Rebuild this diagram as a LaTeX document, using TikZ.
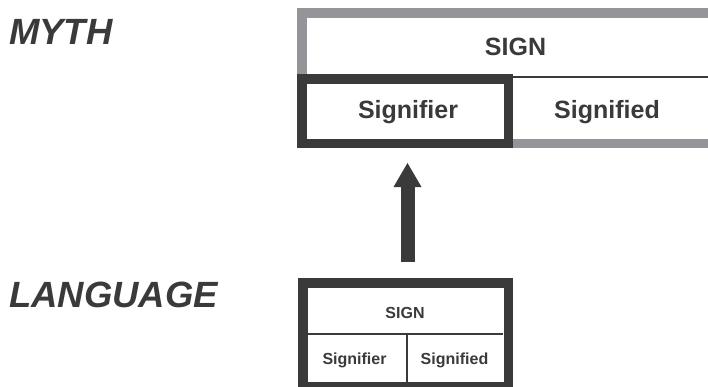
\documentclass[tikz,border=0pt]{standalone}
\usepackage{fontspec}
\setmainfont{Liberation Sans}
\usetikzlibrary{arrows.meta,positioning}
\definecolor{ink}{RGB}{58,58,58}
\definecolor{rim}{RGB}{147,149,152}

\begin{document}
\begin{tikzpicture}[x=1pt,y=-1pt,
  level/.style={anchor=base west,inner sep=0pt,text=ink,font=\fontsize{36.5}{36.5}\selectfont\bfseries\itshape},
  big/.style={anchor=base,inner sep=0pt,text=ink,font=\fontsize{25}{25}\selectfont\bfseries},
  small/.style={anchor=base,inner sep=0pt,text=ink,font=\fontsize{16}{16}\selectfont\bfseries},
  frame/.style={draw=ink,line width=9.5pt,inner sep=0pt,fill=white}]
  \useasboundingbox (0,0) rectangle (708,386);
  % myth level
  \draw[rim,line width=9.5pt,fill=white] (301.75,12.75) rectangle (740,143.25);
  \draw[ink,line width=1.6pt] (301.75,77) -- (740,77);
  \node[frame,minimum width=206.5pt,minimum height=64.5pt] (sr) at (405,111) {};
  \node[level] (myth) at (9,44) {MYTH};
  \node[big] (mythsign) at (515.5,55) {SIGN};
  \node[big] (mythsr) at (408,118) {Signifier};
  \node[big] (mythsd) at (607,118) {Signified};
  % language level
  \node[frame,minimum width=205.5pt,minimum height=104pt] (lang) at (405.5,334.75) {};
  \draw[ink,line width=2pt] (307,334) -- (503,334) (407,334) -- (407,382);
  \node[level] (language) at (9,307) {LANGUAGE};
  \node[small] (langsign) at (405,318) {SIGN};
  \node[small] (langsr) at (354.5,364) {Signifier};
  \node[small] (langsd) at (454.5,364) {Signified};
  % arrow
  \draw[ink,line width=14pt,-{Triangle[width=28pt,length=24pt,line width=0pt]},
    shorten <=16pt,shorten >=15pt] ([xshift=2pt]lang.north) -- ([xshift=2pt]lang.north |- sr.south);
\end{tikzpicture}
\end{document}
